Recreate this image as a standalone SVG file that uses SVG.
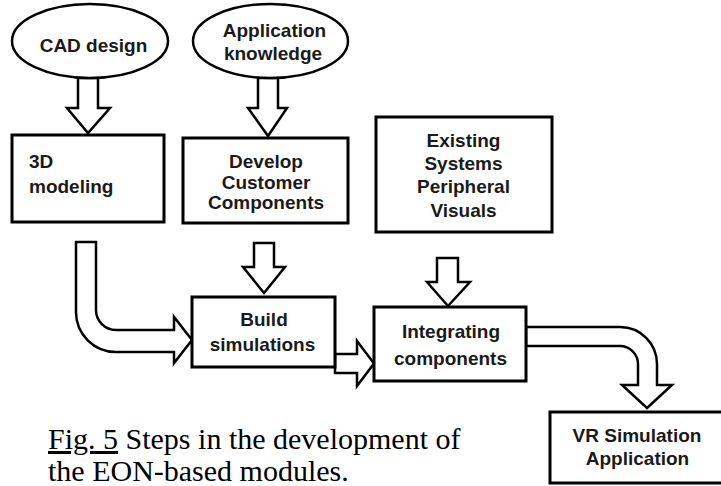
<svg xmlns="http://www.w3.org/2000/svg" width="721" height="486" viewBox="0 0 721 486">
<style>
.box{fill:#fff;stroke:#000;stroke-width:3}
.ell{fill:#fff;stroke:#000;stroke-width:2.5}
.arr{fill:#fff;stroke:#000;stroke-width:2.5;stroke-linejoin:miter}
.lbl{font-family:"Liberation Sans",Arial,sans-serif;font-weight:bold;font-size:19px;fill:#1a1a1a;text-anchor:middle}
.cap{font-family:"Liberation Serif","Times New Roman",serif;font-size:30px;fill:#000}
</style>
<rect width="721" height="486" fill="#fff"/>
<g id="connectors">
<path class="arr" d="M78,78 H98 V108 H110 L88,133 L67,108 H78 Z"/>
<path class="arr" d="M258,78 H278 V108 H287 L268,136 L248,108 H258 Z"/>
<path class="arr" d="M254,243 H274 V267 H285 L264,293 L243,267 H254 Z"/>
<path class="arr" d="M437,258 H458 V282 H470 L448,306 L427,282 H437 Z"/>
<path class="arr" d="M76,242 H96 V310 A20,20 0 0 0 116,330 H174 V317 L192,340 L174,363 V352 H116 A40,40 0 0 1 76,312 Z"/>
<path class="arr" d="M335,354 H357 V341 L374,363.5 L357,386 V373 H335 Z"/>
<path class="arr" d="M526,327 H620 A37,37 0 0 1 657,364 V385 H672 L647,408 L622,385 H638 V364 A18,18 0 0 0 620,346 H526 Z"/>
</g>
<g id="cad">
<ellipse class="ell" cx="90" cy="41" rx="78" ry="37"/>
<text class="lbl" x="93.5" y="52">CAD design</text>
</g>
<g id="appknow">
<ellipse class="ell" cx="270.5" cy="41" rx="77.5" ry="37"/>
<text class="lbl" x="274.5" y="37">Application</text>
<text class="lbl" x="273" y="60">knowledge</text>
</g>
<g id="modeling">
<rect class="box" x="12" y="135" width="152" height="87"/>
<text class="lbl" x="29" y="168" style="text-anchor:start">3D</text>
<text class="lbl" x="29" y="193" style="text-anchor:start">modeling</text>
</g>
<g id="develop">
<rect class="box" x="183" y="138" width="165" height="85"/>
<text class="lbl" x="266" y="168">Develop</text>
<text class="lbl" x="266" y="189">Customer</text>
<text class="lbl" x="266" y="209">Components</text>
</g>
<g id="existing">
<rect class="box" x="376" y="117" width="176" height="115"/>
<text class="lbl" x="463.5" y="147">Existing</text>
<text class="lbl" x="463.5" y="170">Systems</text>
<text class="lbl" x="463.5" y="193">Peripheral</text>
<text class="lbl" x="463.5" y="217">Visuals</text>
</g>
<g id="build">
<rect class="box" x="192" y="297" width="143" height="70"/>
<text class="lbl" x="264" y="326">Build</text>
<text class="lbl" x="262.5" y="351">simulations</text>
</g>
<g id="integrating">
<rect class="box" x="374" y="307" width="152" height="74"/>
<text class="lbl" x="451" y="338">Integrating</text>
<text class="lbl" x="450.5" y="365">components</text>
</g>
<g id="vr">
<rect class="box" x="550" y="412" width="180" height="71"/>
<text class="lbl" x="637" y="442">VR Simulation</text>
<text class="lbl" x="637.5" y="465">Application</text>
</g>
<g id="caption">
<text class="cap" x="48" y="449"><tspan text-decoration="underline">Fig. 5</tspan> Steps in the development of</text>
<text class="cap" x="48" y="481">the EON-based modules.</text>
</g>
</svg>
